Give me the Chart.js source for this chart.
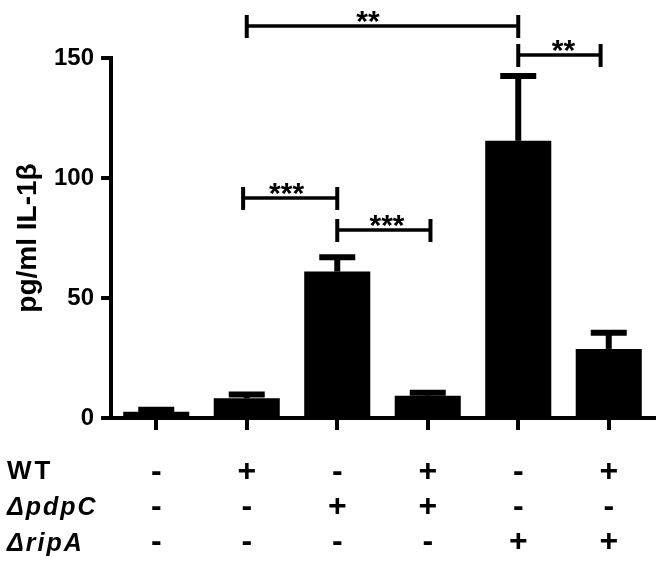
<!DOCTYPE html>
<html>
<head>
<meta charset="utf-8">
<script src="https://cdn.jsdelivr.net/npm/chart.js@4/dist/chart.umd.min.js"></script>
<style>
  html, body { margin: 0; padding: 0; background: #fff; }
  #wrap { width: 663px; height: 569px; }
</style>
</head>
<body>
<div id="wrap"><canvas id="c"></canvas></div>
<script>
// groups (one per bar)
var groups = ['1', '2', '3', '4', '5', '6'];
// IL-1b, mean and upper error (SEM)
var means = [2.6, 8.2, 61, 9.3, 115.5, 28.8];
var errs = [0.8, 1.6, 6, 1.2, 27, 6.7];
// table under the axis
var rowNames = ['WT', '\u0394pdpC', '\u0394ripA'];
var wtRow = ['-', '+', '-', '+', '-', '+'];
var pdpcRow = ['-', '-', '+', '+', '-', '-'];
var ripaRow = ['-', '-', '-', '-', '+', '+'];
// significance brackets (category units / value units)
var brFrom = [1, 4, 0.96, 2];
var brTo = [4, 4.91, 2, 3.03];
var brLevel = [163.3, 151.2, 91.7, 78.3];
var brLabel = ['**', '**', '***', '***'];
var brLabelAt = [2.34, 4.5, 1.44, 2.55];

var FONT = '"Liberation Sans", Arial, Helvetica, sans-serif';
Chart.defaults.font.family = FONT;
Chart.defaults.color = '#000';

// error bars, brackets and row names
var extras = {
  id: 'extras',
  afterDatasetsDraw: function(chart) {
    var ctx = chart.ctx;
    var x = chart.scales.x, y = chart.scales.y;
    var meta = chart.getDatasetMeta(0);
    ctx.save();
    ctx.strokeStyle = '#000';
    ctx.lineCap = 'butt';
    // error bars (upper only)
    meta.data.forEach(function(bar, i) {
      var yb = y.getPixelForValue(means[i]);
      var yt = y.getPixelForValue(means[i] + errs[i]);
      ctx.lineWidth = 6;
      ctx.beginPath();
      ctx.moveTo(bar.x, yb);
      ctx.lineTo(bar.x, yt);
      ctx.stroke();
      ctx.beginPath();
      ctx.moveTo(bar.x - 18, yt);
      ctx.lineTo(bar.x + 18, yt);
      ctx.stroke();
    });
    // brackets
    ctx.fillStyle = '#000';
    ctx.textAlign = 'center';
    ctx.textBaseline = 'alphabetic';
    ctx.font = 'bold 30px ' + FONT;
    for (var k = 0; k < brFrom.length; k++) {
      var x1 = x.getPixelForValue(brFrom[k]);
      var x2 = x.getPixelForValue(brTo[k]);
      var yy = y.getPixelForValue(brLevel[k]);
      ctx.lineWidth = 3.5;
      ctx.beginPath();
      ctx.moveTo(x1, yy);
      ctx.lineTo(x2, yy);
      ctx.stroke();
      ctx.lineWidth = 4;
      ctx.beginPath();
      ctx.moveTo(x1, yy - 11);
      ctx.lineTo(x1, yy + 12);
      ctx.moveTo(x2, yy - 11);
      ctx.lineTo(x2, yy + 12);
      ctx.stroke();
      ctx.fillText(brLabel[k], x.getPixelForValue(brLabelAt[k]), yy + 5);
    }
    // row names of the table
    ctx.textAlign = 'left';
    ctx.textBaseline = 'middle';
    var rowY = [472, 508, 544];
    rowNames.forEach(function(n, r) {
      if ('letterSpacing' in ctx) ctx.letterSpacing = r === 0 ? '3px' : '2px';
      ctx.font = (r === 0 ? 'bold 26px ' : 'italic bold 25px ') + FONT;
      ctx.fillText(n, 7, rowY[r]);
    });
    ctx.restore();
  }
};

new Chart(document.getElementById('c'), {
  type: 'bar',
  data: {
    labels: groups,
    datasets: [{
      data: means,
      backgroundColor: '#000',
      borderWidth: 0,
      categoryPercentage: 1,
      barPercentage: 0.73
    }]
  },
  options: {
    responsive: true,
    maintainAspectRatio: false,
    animation: false,
    devicePixelRatio: 1,
    layout: { padding: { top: 58, right: 9, left: 0, bottom: 0 } },
    plugins: { legend: { display: false }, tooltip: { enabled: false } },
    scales: {
      x: {
        afterFit: function(s) { s.height = 151; },
        grid: { offset: false, drawOnChartArea: false, tickLength: 12, lineWidth: 4, color: '#000' },
        border: { color: '#000', width: 4 },
        ticks: {
          autoSkip: false,
          maxRotation: 0,
          padding: 24.5,
          color: '#000',
          font: { size: 32, weight: 'bold', lineHeight: '35px' },
          callback: function(v, i) { return [wtRow[i], pdpcRow[i], ripaRow[i]]; }
        }
      },
      y: {
        min: 0,
        max: 150,
        afterFit: function(s) { s.width = 111; },
        grid: { drawOnChartArea: false, tickLength: 10, lineWidth: 4, color: '#000' },
        border: { color: '#000', width: 4 },
        ticks: {
          stepSize: 50,
          padding: 7,
          color: '#000',
          font: { size: 24, weight: 'bold' }
        },
        title: {
          display: true,
          text: 'pg/ml IL-1\u03b2',
          color: '#000',
          font: { size: 28, weight: 'bold' },
          padding: { top: 11, bottom: 0 }
        }
      }
    }
  },
  plugins: [extras]
});
</script>
</body>
</html>
